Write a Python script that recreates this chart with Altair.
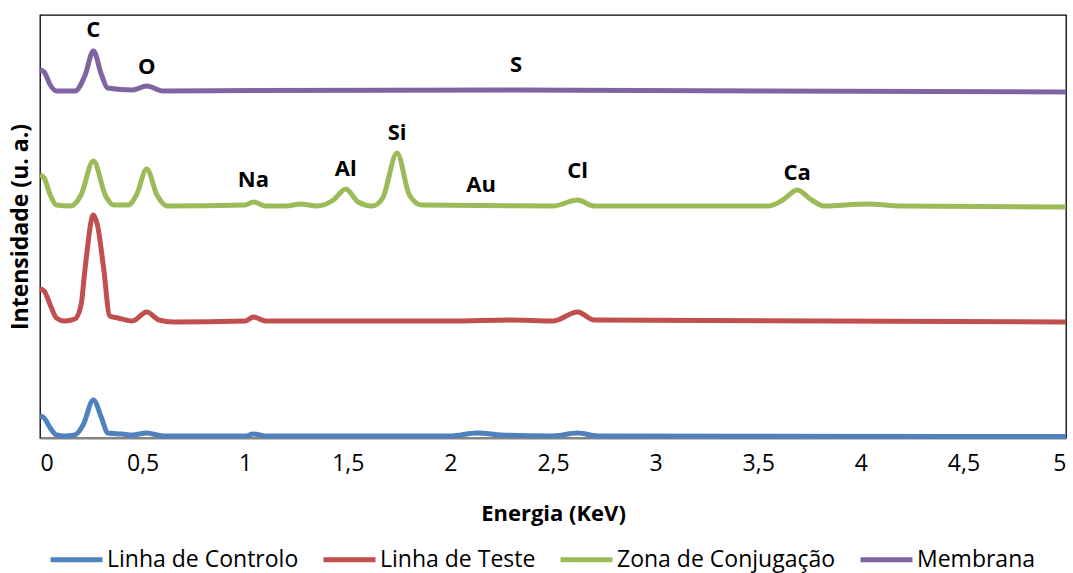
import altair as alt
import pandas as pd

FONT = "Open Sans"

series_names = ["Linha de Controlo", "Linha de Teste", "Zona de Conjugação", "Membrana"]
series_colors = ["#4F81BD", "#C0504D", "#9BBB59", "#8064A2"]

# Linha de Controlo (blue)
energy_controlo = [0, 0.02, 0.05, 0.08, 0.12, 0.17, 0.21, 0.26, 0.30, 0.33, 0.40, 0.45, 0.52, 0.60,
                   1.00, 1.04, 1.10, 2.00, 2.13, 2.25, 2.50, 2.62, 2.72, 5.00]
intens_controlo = [22, 20, 10, 3, 2, 3, 13, 38, 20, 5, 4, 3, 5, 2,
                   2, 4, 2, 2, 5, 3, 2, 5, 2, 1.5]

# Linha de Teste (red)
energy_teste = [0, 0.02, 0.05, 0.08, 0.12, 0.17, 0.20, 0.22, 0.26, 0.28, 0.31, 0.34, 0.38, 0.45,
                0.52, 0.58, 0.65, 1.00, 1.04, 1.10, 2.00, 2.30, 2.50, 2.62, 2.70, 5.00]
intens_teste = [149, 147, 133, 120, 117, 119, 133, 170, 223, 213, 170, 122, 120, 117,
                126, 118, 116, 117, 121, 117, 117, 118, 117, 126, 118, 116]

# Zona de Conjugação (green)
energy_zona = [0, 0.02, 0.05, 0.08, 0.15, 0.20, 0.26, 0.32, 0.36, 0.43, 0.47, 0.52, 0.57, 0.62,
               1.00, 1.04, 1.10, 1.20, 1.27, 1.35, 1.43, 1.49, 1.55, 1.62, 1.67, 1.74, 1.80, 1.86,
               2.50, 2.62, 2.70, 3.55, 3.62, 3.69, 3.76, 3.82, 4.03, 4.20, 5.00]
intens_zona = [263, 260, 243, 233, 232, 243, 277, 242, 233, 233, 243, 269, 243, 232,
               233, 236, 232, 232, 234, 232, 238, 249, 236, 232, 240, 285, 243, 233,
               232, 238, 232, 232, 238, 248, 238, 232, 234, 232, 231]

# Membrana (purple)
energy_membrana = [0, 0.02, 0.05, 0.08, 0.17, 0.22, 0.26, 0.30, 0.33, 0.45, 0.52, 0.60,
                   1.04, 2.32, 5.00]
intens_membrana = [368, 366, 353, 347, 347, 363, 387, 363, 350, 348, 352, 347,
                   347.5, 348, 346]

peak_labels = ["C", "O", "S", "Na", "Al", "Si", "Au", "Cl", "Ca"]
peak_energy = [0.26, 0.52, 2.32, 1.04, 1.49, 1.74, 2.15, 2.62, 3.69]
peak_height = [408, 371, 373, 258, 269, 305, 253, 267, 265]

x_ticks = [0, 0.5, 1, 1.5, 2, 2.5, 3, 3.5, 4, 4.5, 5]

rows = []
for name, es, vs in zip(series_names,
                        [energy_controlo, energy_teste, energy_zona, energy_membrana],
                        [intens_controlo, intens_teste, intens_zona, intens_membrana]):
    for i, (e, v) in enumerate(zip(es, vs)):
        rows.append({"serie": name, "energia": e, "intensidade": v, "ordem": i})
df = pd.DataFrame(rows)

labels_df = pd.DataFrame({"label": peak_labels, "energia": peak_energy, "intensidade": peak_height})

x_scale = alt.Scale(domain=[0, 5], nice=False, zero=False)
y_scale = alt.Scale(domain=[0, 423], nice=False)

lines = alt.Chart(df).mark_line(strokeWidth=5, interpolate="monotone").encode(
    x=alt.X("energia:Q", scale=x_scale,
            axis=alt.Axis(values=x_ticks, format="~g", labelExpr="replace(datum.label, '.', ',')",
                          title="Energia (KeV)", ticks=False, grid=False,
                          domainColor="#868686", domainWidth=2,
                          labelFont=FONT, labelFontSize=23, labelColor="black", labelPadding=14,
                          titleFont=FONT, titleFontSize=22, titleFontWeight="bold",
                          titleColor="black", titlePadding=28)),
    y=alt.Y("intensidade:Q", scale=y_scale,
            axis=alt.Axis(title="Intensidade (u. a.)", labels=False, ticks=False, grid=False,
                          domain=False, titleFont=FONT, titleFontSize=23, titleFontWeight="bold",
                          titleColor="black", titlePadding=8)),
    color=alt.Color("serie:N", scale=alt.Scale(domain=series_names, range=series_colors),
                    legend=alt.Legend(title=None, orient="none", direction="horizontal",
                                      legendX=8, legendY=516,
                                      symbolType="stroke", symbolSize=2700, symbolStrokeWidth=5,
                                      labelFont=FONT, labelFontSize=23, labelColor="black",
                                      labelLimit=0, labelOffset=2, columnPadding=14)),
    order="ordem:Q",
    detail="serie:N",
)

texts = alt.Chart(labels_df).mark_text(font=FONT, fontSize=22, fontWeight="bold", color="black",
                                       baseline="middle", align="center").encode(
    x=alt.X("energia:Q", scale=x_scale),
    y=alt.Y("intensidade:Q", scale=y_scale),
    text="label:N",
)

chart = alt.layer(lines, texts).properties(
    width=1026, height=423,
    background="white",
    autosize=alt.AutoSizeParams(type="none"),
    padding={"left": 40, "top": 15, "right": 7, "bottom": 135},
).configure_view(stroke="black", strokeWidth=1.3)

chart.save("out.html", embed_options={"renderer": "svg", "actions": False})
